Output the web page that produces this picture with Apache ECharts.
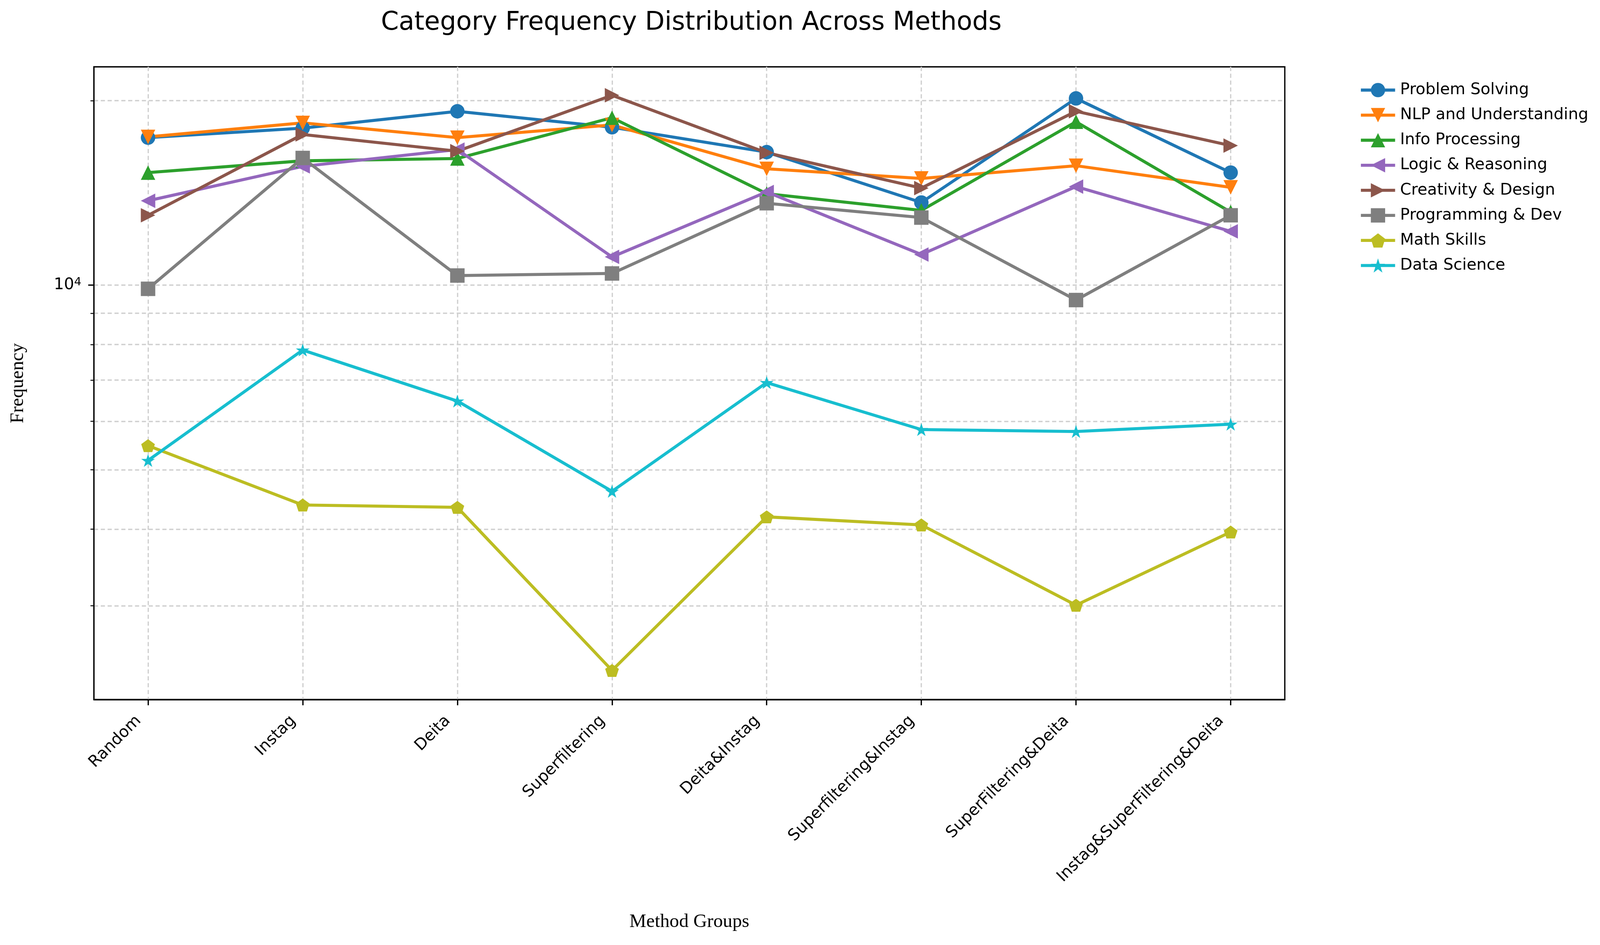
<!DOCTYPE html>
<html>
<head>
<meta charset="utf-8">
<title>Category Frequency Distribution Across Methods</title>
<script src="https://cdn.jsdelivr.net/npm/echarts@6/dist/echarts.min.js"></script>
<style>
  html, body { margin: 0; padding: 0; background: #fff; overflow: hidden; }
  #chart { width: 100vw; height: 100vh; }
</style>
</head>
<body>
<div id="chart"></div>
<script>
// x categories (method groups)
const methods = ['Random', 'Instag', 'Deita', 'Superfiltering', 'Deita&Instag',
  'Superfiltering&Instag', 'SuperFiltering&Deita', 'Instag&SuperFiltering&Deita']

// frequency per category
const problemSolving = [17400, 18030, 19210, 18090, 16480, 13640, 20160, 15260]
const nlpUnderstanding = [17450, 18390, 17400, 18250, 15480, 14930, 15660, 14440]
const infoProcessing = [15260, 15950, 16090, 18750, 14100, 13240, 18470, 13160]
const logicReasoning = [13730, 15620, 16640, 11120, 14190, 11220, 14480, 12240]
const creativityDesign = [13000, 17610, 16540, 20400, 16440, 14400, 19210, 16890]
const programmingDev = [9863, 16120, 10367, 10450, 13600, 12890, 9457, 13000]
const mathSkills = [5474, 4381, 4342, 2354, 4190, 4065, 3007, 3958]
const dataScience = [5178, 7838, 6472, 4612, 6937, 5815, 5773, 5934]

// y ticks
const majorTicks = [10000]
const minorTicks = [3000, 4000, 5000, 6000, 7000, 8000, 9000, 20000]

// layout was measured on a 4208x2418 picture, scale it to the real viewport
const sx = window.innerWidth / 4208
const sy = window.innerHeight / 2418
const px = v => v * sx
const py = v => v * sy
const fs = v => v * sx

// marker shapes (matplotlib o v ^ < > s p *)
const pentagon = 'path://M0,-1 L0.9511,-0.309 L0.5878,0.809 L-0.5878,0.809 L-0.9511,-0.309 Z'
const star = 'path://M0,-1 L0.2245,-0.309 L0.9511,-0.309 L0.3633,0.118 L0.5878,0.809 L0,0.382 L-0.5878,0.809 L-0.3633,0.118 L-0.9511,-0.309 L-0.2245,-0.309 Z'

const seriesDefs = [
  { name: 'Problem Solving', data: problemSolving, color: '#1f77b4', symbol: 'circle', size: [38, 38] },
  { name: 'NLP and Understanding', data: nlpUnderstanding, color: '#ff7f0e', symbol: 'path://M0,0 L2,0 L1,2 Z', size: [38, 38] },
  { name: 'Info Processing', data: infoProcessing, color: '#2ca02c', symbol: 'path://M1,0 L2,2 L0,2 Z', size: [38, 38] },
  { name: 'Logic & Reasoning', data: logicReasoning, color: '#9467bd', symbol: 'path://M0,1 L2,0 L2,2 Z', size: [38, 38] },
  { name: 'Creativity & Design', data: creativityDesign, color: '#8c564b', symbol: 'path://M0,0 L2,1 L0,2 Z', size: [38, 38] },
  { name: 'Programming & Dev', data: programmingDev, color: '#7f7f7f', symbol: 'rect', size: [38, 38] },
  { name: 'Math Skills', data: mathSkills, color: '#bcbd22', symbol: pentagon, size: [36, 34] },
  { name: 'Data Science', data: dataScience, color: '#17becf', symbol: star, size: [36, 34] }
]

const gridLine = {
  show: true,
  lineStyle: { color: '#d0d0d0', width: fs(3.4), type: [fs(11), fs(7)] }
}

let chart = echarts.init(document.getElementById('chart'))

let option = {
  animation: false,
  backgroundColor: '#fff',
  title: {
    text: 'Category Frequency Distribution Across Methods',
    left: px(1813),
    textAlign: 'center',
    top: py(22),
    textStyle: { fontFamily: 'DejaVu Sans', fontSize: fs(67), fontWeight: 'normal', color: '#000' }
  },
  legend: {
    orient: 'vertical',
    left: px(3570),
    top: py(205),
    itemWidth: px(90),
    itemHeight: fs(47),
    itemGap: py(64) - fs(42),
    lineStyle: { width: fs(8) },
    textStyle: { fontFamily: 'DejaVu Sans', fontSize: fs(42), color: '#000', padding: [0, 0, 0, fs(8)] },
    data: seriesDefs.map(s => s.name)
  },
  grid: {
    left: px(247),
    right: px(829),
    top: py(171),
    bottom: py(628),
    show: true,
    borderColor: '#000',
    borderWidth: fs(3.4)
  },
  xAxis: {
    type: 'value',
    min: -0.35,
    max: 7.35,
    name: 'Method Groups',
    nameLocation: 'middle',
    nameGap: py(545),
    nameTextStyle: { fontFamily: 'Liberation Serif', fontSize: fs(50), color: '#000' },
    axisLine: { show: true, onZero: false, lineStyle: { color: '#000', width: fs(3.4) } },
    axisTick: {
      show: true,
      length: fs(15),
      customValues: methods.map((m, i) => i),
      lineStyle: { color: '#000', width: fs(3.4) }
    },
    axisLabel: {
      customValues: methods.map((m, i) => i),
      rotate: 45,
      margin: py(24),
      padding: [0, fs(35), 0, 0],
      fontFamily: 'DejaVu Sans',
      fontSize: fs(42),
      color: '#000',
      formatter: v => methods[Math.round(v)]
    },
    splitLine: gridLine
  },
  yAxis: [
    {
      type: 'log',
      position: 'left',
      min: 2110,
      max: 22700,
      name: 'Frequency',
      nameLocation: 'middle',
      nameGap: px(174),
      nameTextStyle: { fontFamily: 'Liberation Serif', fontSize: fs(50), color: '#000' },
      axisLine: { show: true, onZero: false, lineStyle: { color: '#000', width: fs(3.4) } },
      axisTick: {
        show: true,
        length: fs(15),
        customValues: majorTicks,
        lineStyle: { color: '#000', width: fs(3.4) }
      },
      axisLabel: {
        customValues: majorTicks,
        margin: px(33),
        formatter: v => '{b|10}{s|' + Math.round(Math.log10(v)) + '}',
        rich: {
          b: { fontFamily: 'DejaVu Sans', fontSize: fs(42), color: '#000' },
          s: { fontFamily: 'DejaVu Sans', fontSize: fs(30), color: '#000', verticalAlign: 'top', padding: [0, 0, fs(14), 0] }
        }
      },
      splitLine: gridLine
    },
    {
      // minor ticks and grid lines only
      type: 'log',
      position: 'left',
      min: 2110,
      max: 22700,
      axisLine: { show: false, onZero: false },
      axisTick: {
        show: true,
        length: fs(9),
        customValues: minorTicks,
        lineStyle: { color: '#000', width: fs(2.5) }
      },
      axisLabel: { show: false },
      splitLine: gridLine
    }
  ],
  series: seriesDefs.map(s => ({
    name: s.name,
    type: 'line',
    yAxisIndex: 0,
    data: s.data.map((v, i) => [i, v]),
    symbol: s.symbol,
    symbolSize: [fs(s.size[0]), fs(s.size[1])],
    showAllSymbol: true,
    lineStyle: { color: s.color, width: fs(8) },
    itemStyle: { color: s.color },
    emphasis: { disabled: true }
  }))
}

chart.setOption(option)
</script>
</body>
</html>
